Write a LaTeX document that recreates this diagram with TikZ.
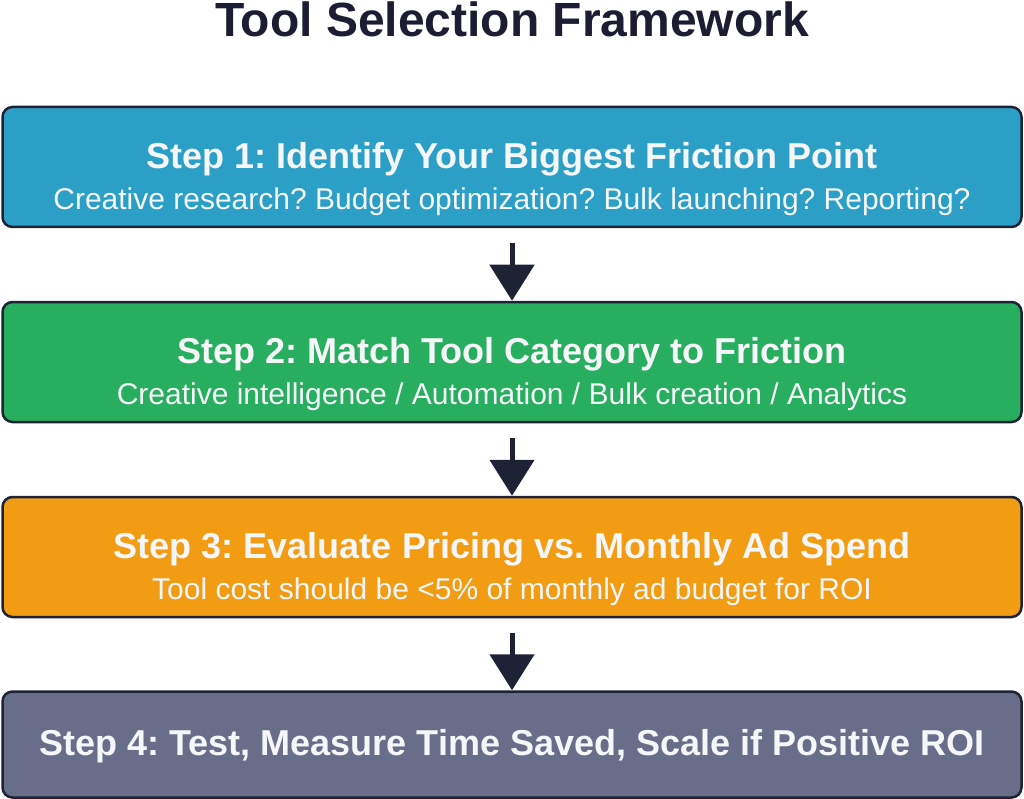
\documentclass[tikz,border=0pt]{standalone}
\usepackage{fontspec}
\setmainfont{Liberation Sans}
\usetikzlibrary{arrows.meta,positioning}
\frenchspacing
\definecolor{edge}{HTML}{1E2235}
\definecolor{titleink}{HTML}{1C1D33}
\definecolor{boxtext}{HTML}{F4F6F8}
\definecolor{stepblue}{HTML}{2C9FC6}
\definecolor{stepgreen}{HTML}{27AE5F}
\definecolor{steporange}{HTML}{F29C14}
\definecolor{stepslate}{HTML}{686E89}
\newcommand{\headf}{\bfseries\fontsize{36}{40}\selectfont\rule{0pt}{50pt}}
\newcommand{\subf}{\fontsize{30}{34}\selectfont}

\begin{document}
\begin{tikzpicture}[x=1pt,y=-1pt,
  stepbox/.style={draw=edge,line width=2.5pt,rounded corners=10pt,minimum width=1019pt,
    minimum height=120pt,align=center,text=boxtext,inner sep=0pt},
  flow/.style={draw=edge,line width=5pt,-{Triangle[length=36pt,width=44pt]}}]
\useasboundingbox (0,0) rectangle (1024,799);
\node[font=\bfseries\fontsize{48}{52}\selectfont,text=titleink] (title) at (512,19) {Tool Selection Framework};
\node[stepbox,fill=stepblue] (s1) at (512,167)
  {{\headf Step 1: Identify Your Biggest Friction Point}\\[11pt]
   {\subf Creative research? Budget optimization? Bulk launching? Reporting?}};
\node[stepbox,fill=stepgreen] (s2) at (512,362)
  {{\headf Step 2: Match Tool Category to Friction}\\[11pt]
   {\subf Creative intelligence / Automation / Bulk creation / Analytics}};
\node[stepbox,fill=steporange] (s3) at (512,557)
  {{\headf Step 3: Evaluate Pricing vs. Monthly Ad Spend}\\[11pt]
   {\subf Tool cost should be <5\% of monthly ad budget for ROI}};
\node[stepbox,fill=stepslate,minimum height=106pt] (s4) at (512,744.5)
  {{\bfseries\fontsize{36}{40}\selectfont\rule{0pt}{30pt}Step 4: Test, Measure Time Saved, Scale if Positive ROI}};
% arrows between the steps
\foreach \a/\b in {s1/s2,s2/s3,s3/s4}
  \draw[flow] ([yshift=-15pt]\a.south) -- (\b.north);
\end{tikzpicture}
\end{document}
